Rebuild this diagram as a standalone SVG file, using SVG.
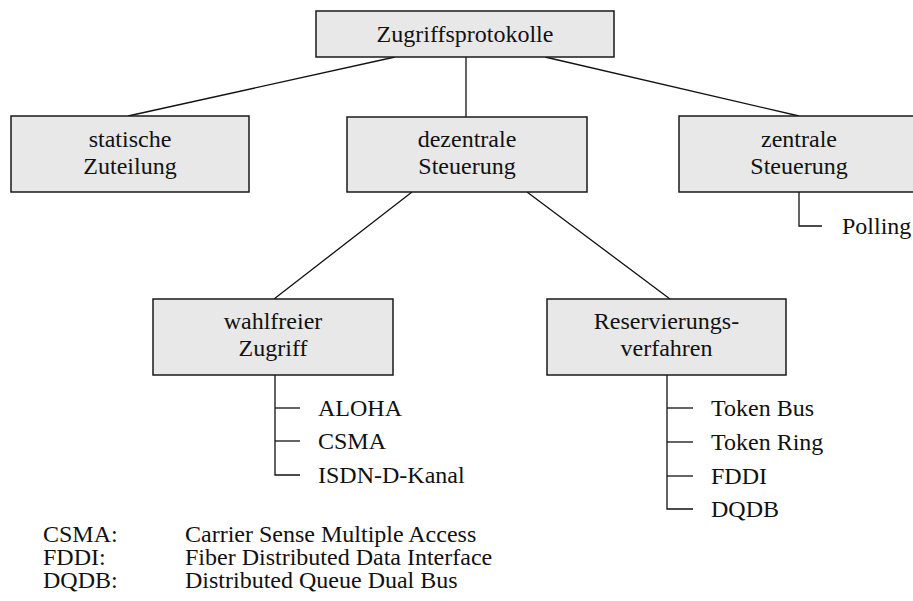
<svg xmlns="http://www.w3.org/2000/svg" width="913" height="601" viewBox="0 0 913 601">
<style>
.box{fill:#e8e8e8;stroke:#1a1a1a;stroke-width:1.5}
.t{font-family:"Liberation Serif","Times New Roman",serif;font-size:24px;fill:#111}
.c{text-anchor:middle}
.ln{fill:none;stroke:#111;stroke-width:1.3}
</style>
<rect width="913" height="601" fill="#fff"/>
<g id="connectors">
<line class="ln" x1="395" y1="57" x2="128" y2="116"/>
<line class="ln" x1="466" y1="57" x2="466" y2="117"/>
<line class="ln" x1="545" y1="57" x2="799" y2="116"/>
<line class="ln" x1="412" y1="192" x2="274" y2="299"/>
<line class="ln" x1="527" y1="192" x2="670" y2="299"/>
<polyline class="ln" points="799,192 799,226 822,226"/>
<polyline class="ln" points="275,375 275,475 300,475"/>
<line class="ln" x1="275" y1="408" x2="300" y2="408"/>
<line class="ln" x1="275" y1="441" x2="300" y2="441"/>
<polyline class="ln" points="667,375 667,509 693,509"/>
<line class="ln" x1="667" y1="408" x2="693" y2="408"/>
<line class="ln" x1="667" y1="442" x2="693" y2="442"/>
<line class="ln" x1="667" y1="476" x2="693" y2="476"/>
</g>
<g id="zugriffsprotokolle">
<rect class="box" x="316" y="11" width="298" height="46"/>
<text class="t c" x="465" y="42">Zugriffsprotokolle</text>
</g>
<g id="statische">
<rect class="box" x="11" y="116" width="238" height="76"/>
<text class="t c" x="130" y="147">statische</text>
<text class="t c" x="130" y="174">Zuteilung</text>
</g>
<g id="dezentrale">
<rect class="box" x="347" y="117" width="240" height="75"/>
<text class="t c" x="467" y="147">dezentrale</text>
<text class="t c" x="467" y="174">Steuerung</text>
</g>
<g id="zentrale">
<rect class="box" x="679" y="116" width="240" height="76"/>
<text class="t c" x="799" y="147">zentrale</text>
<text class="t c" x="799" y="174">Steuerung</text>
</g>
<g id="polling">
<text class="t" x="842" y="234">Polling</text>
</g>
<g id="wahlfreier">
<rect class="box" x="153" y="299" width="240" height="76"/>
<text class="t c" x="273" y="329">wahlfreier</text>
<text class="t c" x="273" y="356">Zugriff</text>
</g>
<g id="wahlfreier-list">
<text class="t" x="318" y="416">ALOHA</text>
<text class="t" x="318" y="449">CSMA</text>
<text class="t" x="318" y="483">ISDN-D-Kanal</text>
</g>
<g id="reservierung">
<rect class="box" x="547" y="299" width="239" height="76"/>
<text class="t c" x="666.5" y="329">Reservierungs-</text>
<text class="t c" x="666.5" y="356">verfahren</text>
</g>
<g id="reservierung-list">
<text class="t" x="711" y="416">Token Bus</text>
<text class="t" x="711" y="450">Token Ring</text>
<text class="t" x="711" y="484">FDDI</text>
<text class="t" x="711" y="517">DQDB</text>
</g>
<g id="legend">
<text class="t" x="43" y="542">CSMA:</text>
<text class="t" x="185" y="542">Carrier Sense Multiple Access</text>
<text class="t" x="43" y="565">FDDI:</text>
<text class="t" x="185" y="565">Fiber Distributed Data Interface</text>
<text class="t" x="43" y="588">DQDB:</text>
<text class="t" x="185" y="588">Distributed Queue Dual Bus</text>
</g>
</svg>
